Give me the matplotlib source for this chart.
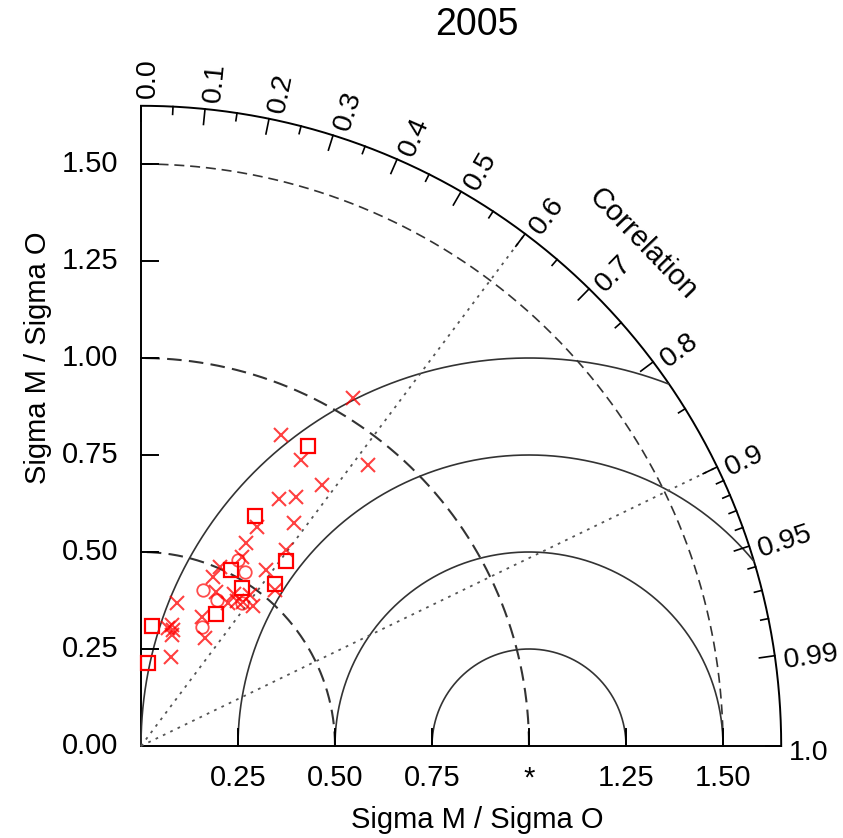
import matplotlib
matplotlib.use("Agg")
import matplotlib.pyplot as plt
import numpy as np

plt.rcParams['font.family'] = ['Liberation Sans', 'DejaVu Sans']

# data: normalised std (Sigma M / Sigma O) and correlation
sq_std = [0.885, 0.661, 0.605, 0.510, 0.543, 0.482, 0.391, 0.310, 0.214]
sq_cor = [0.487, 0.446, 0.618, 0.455, 0.637, 0.539, 0.494, 0.090, 0.084]

x_std = [1.049, 0.879, 0.844, 0.930, 0.819, 0.729, 0.755, 0.696, 0.639, 0.589,
         0.628, 0.553, 0.557, 0.474, 0.379, 0.442, 0.323, 0.241, 0.530, 0.368,
         0.431, 0.447, 0.456, 0.480, 0.322, 0.311, 0.310, 0.297, 0.505, 0.462,
         0.460]
x_cor = [0.520, 0.410, 0.488, 0.629, 0.569, 0.488, 0.528, 0.566, 0.468, 0.458,
         0.595, 0.472, 0.578, 0.392, 0.243, 0.437, 0.510, 0.320, 0.651, 0.424,
         0.522, 0.553, 0.579, 0.585, 0.245, 0.225, 0.268, 0.266, 0.404, 0.627,
         0.522]

o_std = [0.541, 0.523, 0.433, 0.424, 0.343, 0.451]
o_cor = [0.464, 0.513, 0.372, 0.465, 0.455, 0.577]

title = "2005"
std_ticks = [0.25, 0.5, 0.75, 1.0, 1.25, 1.5]
x_labels = ["0.25", "0.50", "0.75", "*", "1.25", "1.50"]
y_labels = ["0.25", "0.50", "0.75", "1.00", "1.25", "1.50"]
cor_major = [0.0, 0.1, 0.2, 0.3, 0.4, 0.5, 0.6, 0.7, 0.8, 0.9, 0.95, 0.99, 1.0]
cor_labels = ["0.0", "0.1", "0.2", "0.3", "0.4", "0.5", "0.6", "0.7", "0.8",
              "0.9", "0.95", "0.99", "1.0"]
cor_minor = [0.05, 0.15, 0.25, 0.35, 0.45, 0.55, 0.65, 0.75, 0.85,
             0.91, 0.92, 0.93, 0.94, 0.96, 0.97, 0.98]
rms_radii = [0.25, 0.5, 0.75, 1.0]
std_arcs = [0.5, 1.0, 1.5]
ref_lines = [0.6, 0.9]
RMAX = 1.65

fig = plt.figure(figsize=(8.43, 8.38), dpi=100)
L = 1.75
ax = fig.add_axes([141/843, 92/838, L*388/843, L*388/838])
ax.set_xlim(0, L)
ax.set_ylim(0, L)
ax.axis('off')

k = dict(clip_on=False)

# frame: left axis, bottom axis, outer arc
t = np.linspace(0, np.pi/2, 400)
ax.plot([0, 0], [0, RMAX], color='black', lw=1.4, **k)
ax.plot([0, RMAX], [0, 0], color='black', lw=1.4, **k)
ax.plot(RMAX*np.cos(t), RMAX*np.sin(t), color='black', lw=1.4, **k)

# std arcs around the origin (dashed)
for r in std_arcs:
    if r < 1.4:
        ax.plot(r*np.cos(t), r*np.sin(t), color='#333333', lw=1.5,
                ls=(0, (7, 3.5)), **k)
    else:
        ax.plot(r*np.cos(t), r*np.sin(t), color='#333333', lw=1.2,
                ls=(0, (6, 3.5)), **k)

# rms arcs around the reference point (1, 0)
for rr in rms_radii:
    a = np.linspace(0, np.pi, 800)
    xs = 1 + rr*np.cos(a)
    ys = rr*np.sin(a)
    ok = (np.hypot(xs, ys) <= RMAX) & (xs >= 0)
    ax.plot(np.where(ok, xs, np.nan), np.where(ok, ys, np.nan),
            color='#333333', lw=1.2, **k)

# dotted correlation lines
for c in ref_lines:
    th = np.arccos(c)
    ax.plot([0, RMAX*np.cos(th)], [0, RMAX*np.sin(th)], color='#555555',
            lw=1.3, ls=(0, (1.5, 3)), **k)

# correlation ticks and labels
for c in cor_major:
    th = np.arccos(c)
    ax.plot([RMAX*np.cos(th), (RMAX-0.04)*np.cos(th)],
            [RMAX*np.sin(th), (RMAX-0.04)*np.sin(th)], color='black', lw=1.2, **k)
for c in cor_minor:
    th = np.arccos(c)
    ax.plot([RMAX*np.cos(th), (RMAX-0.02)*np.cos(th)],
            [RMAX*np.sin(th), (RMAX-0.02)*np.sin(th)], color='black', lw=1.2, **k)
for c, lab in zip(cor_major, cor_labels):
    th = np.arccos(c)
    rl = RMAX + 0.02
    off = 0.018
    xa = rl*np.cos(th) + off*np.sin(th)
    ya = rl*np.sin(th) - off*np.cos(th)
    ax.text(xa, ya, lab, rotation=np.degrees(th), rotation_mode='anchor',
            ha='left', va='center', fontsize=20.5)
ax.text(1.294, 1.294, "Correlation", rotation=-46, rotation_mode='anchor',
        ha='center', va='center', fontsize=21)

# std axis ticks and labels
for v, xl, yl in zip(std_ticks, x_labels, y_labels):
    ax.plot([v, v], [0, 0.045], color='black', lw=1.4, **k)
    ax.plot([0, 0.045], [v, v], color='black', lw=1.4, **k)
    ax.text(v, -0.083, xl, ha='center', va='center', fontsize=21)
    ax.text(-0.058, v, yl, ha='right', va='center', fontsize=21)
ax.text(-0.058, 0.0, "0.00", ha='right', va='center', fontsize=21)

ax.text(0.866, -0.19, "Sigma M / Sigma O", ha='center', va='center', fontsize=21)
ax.text(-0.265, 1.0, "Sigma M / Sigma O", ha='center', va='center',
        rotation=90, fontsize=21)
ax.text(0.866, 1.858, title, ha='center', va='center', fontsize=27)

# model points
def pol(s, c):
    s = np.array(s); c = np.array(c)
    return s*c, s*np.sin(np.arccos(c))

px, py = pol(x_std, x_cor)
ax.plot(px, py, 'x', color='red', ms=10, mew=1.5, alpha=0.75, ls='none', **k)
px, py = pol(o_std, o_cor)
ax.plot(px, py, 'o', mfc='none', mec='red', ms=9, mew=1.3, alpha=0.7, ls='none', **k)
px, py = pol(sq_std, sq_cor)
ax.plot(px, py, 's', mfc='none', mec='red', ms=10, mew=1.6, ls='none', **k)

fig.savefig("out.png", dpi=100)
